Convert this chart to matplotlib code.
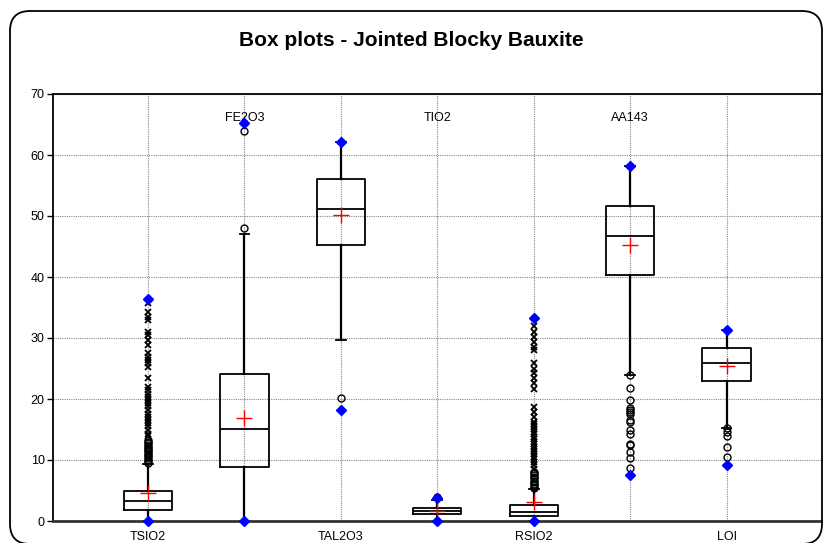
import matplotlib
matplotlib.use("Agg")
import matplotlib.pyplot as plt
from matplotlib.patches import FancyBboxPatch
from matplotlib.transforms import IdentityTransform

plt.rcParams['font.family'] = ['Liberation Sans', 'DejaVu Sans']

labels = ["TSIO2", "FE2O3", "TAL2O3", "TIO2", "RSIO2", "AA143", "LOI"]
q1 = [1.85, 8.8, 45.3, 1.1, 0.8, 40.4, 23.0]
med = [3.2, 15.1, 51.2, 1.6, 1.5, 46.8, 25.95]
q3 = [4.87, 24.1, 56.1, 2.2, 2.7, 51.7, 28.3]
whis_lo = [0.0, 0.0, 29.7, 0.0, 0.0, 23.9, 15.3]
whis_hi = [9.3, 47.0, 62.2, 3.5, 5.2, 58.2, 31.3]
means = [4.6, 16.9, 50.2, 1.7, 3.07, 45.2, 25.4]
mins = [0.0, 0.0, 18.2, 0.0, 0.0, 7.5, 9.2]
maxs = [36.4, 65.2, 62.2, 3.7, 33.3, 58.2, 31.3]

# moderate outliers (open circles)
mild = [
    [9.5, 9.8, 10.0, 10.3, 10.6, 10.9, 11.1, 11.4, 11.7, 11.9, 12.2, 12.5, 12.8, 13.0, 13.3],
    [48.1, 63.9],
    [20.2],
    [3.95],
    [5.4, 5.6, 5.9, 6.1, 6.4, 6.6, 7.0, 7.2, 7.5, 7.8, 8.1],
    [23.9, 21.8, 19.9, 18.5, 18.2, 17.9, 17.5, 16.6, 16.3, 15.0, 14.3, 12.7, 12.5, 11.3, 10.4, 8.7],
    [15.3, 14.6, 13.9, 12.2, 10.5],
]

# extreme outliers (crosses)
extreme = [
    [13.9, 14.3, 14.9, 15.5, 16.0, 16.6, 17.1, 17.5, 18.2, 18.8, 19.3, 19.8, 20.4, 20.9,
     21.5, 22.0, 23.4, 25.3, 25.9, 26.4, 26.9, 27.5, 28.9, 29.7, 30.5, 31.0, 33.0, 33.5,
     34.3, 35.7],
    [],
    [],
    [],
    [8.6, 9.2, 9.7, 10.1, 10.5, 11.0, 11.4, 11.8, 12.2, 12.6, 13.0, 13.4, 13.8, 14.2,
     14.6, 15.1, 15.5, 15.9, 16.3, 17.1, 17.9, 18.7, 21.7, 22.6, 23.4, 24.2, 25.0, 25.9,
     28.0, 28.6, 29.4, 30.2, 31.0, 31.9],
    [],
    [],
]

top_labels = {"FE2O3", "TIO2", "AA143"}

fig = plt.figure(figsize=(8.23, 5.43), dpi=100)
ax = fig.add_axes([53 / 823, 22 / 543, 770 / 823, 427 / 543])

positions = list(range(1, len(labels) + 1))
stats = []
for i in range(len(labels)):
    stats.append(dict(med=med[i], q1=q1[i], q3=q3[i], whislo=whis_lo[i],
                      whishi=whis_hi[i], mean=means[i], fliers=[]))

ax.bxp(stats, positions=positions, widths=0.5, capwidths=0.1, showmeans=True,
       showfliers=False,
       boxprops=dict(color='black', linewidth=1.3),
       medianprops=dict(color='black', linewidth=1.3),
       whiskerprops=dict(color='black', linewidth=1.6),
       capprops=dict(color='black', linewidth=1.3),
       meanprops=dict(marker='+', markeredgecolor='red', markersize=11,
                      markeredgewidth=1.0))

for i, p in enumerate(positions):
    if mild[i]:
        ax.plot([p] * len(mild[i]), mild[i], linestyle='none', marker='o',
                markerfacecolor='none', markeredgecolor='black', markersize=5,
                markeredgewidth=1.0, zorder=3)
    if extreme[i]:
        ax.plot([p] * len(extreme[i]), extreme[i], linestyle='none', marker='x',
                color='black', markersize=4.5, markeredgewidth=1.3, zorder=3)
    ax.plot([p, p], [mins[i], maxs[i]], linestyle='none', marker='D', color='#0000ff',
            markersize=5, zorder=5, clip_on=False)

ax.set_xlim(0.015, 8.0)
ax.set_ylim(0, 70)
ax.set_yticks(range(0, 71, 10))
ax.set_xticks(positions)
ax.set_xticklabels([l if l not in top_labels else "" for l in labels], fontsize=9)
for i, l in enumerate(labels):
    if l in top_labels:
        ax.text(positions[i], 66.0, l, ha='center', va='center', fontsize=9)

ax.tick_params(axis='y', direction='out', length=4, width=1, labelsize=9, pad=2)
ax.tick_params(axis='x', length=0, pad=7)
ax.grid(True, color='#888888', linestyle=(0, (1, 1)), linewidth=0.8)
ax.set_axisbelow(True)
ax.spines['left'].set_linewidth(1.3)
ax.spines['top'].set_linewidth(1.3)
ax.spines['bottom'].set_linewidth(2.0)
ax.spines['bottom'].set_color('#333333')
ax.spines['right'].set_visible(False)

fig.text(0.5, 1 - 41 / 543, "Box plots - Jointed Blocky Bauxite", ha='center',
         va='center', fontsize=15, fontweight='bold')

# rounded outer frame, in pixel coordinates (bottom edge sits on the figure edge)
frame = FancyBboxPatch((10, -1), 812, 533, boxstyle="round,pad=0,rounding_size=20",
                       transform=IdentityTransform(), facecolor='none',
                       edgecolor='black', linewidth=1.3)
fig.patches.append(frame)

fig.savefig("out.png", dpi=100)
